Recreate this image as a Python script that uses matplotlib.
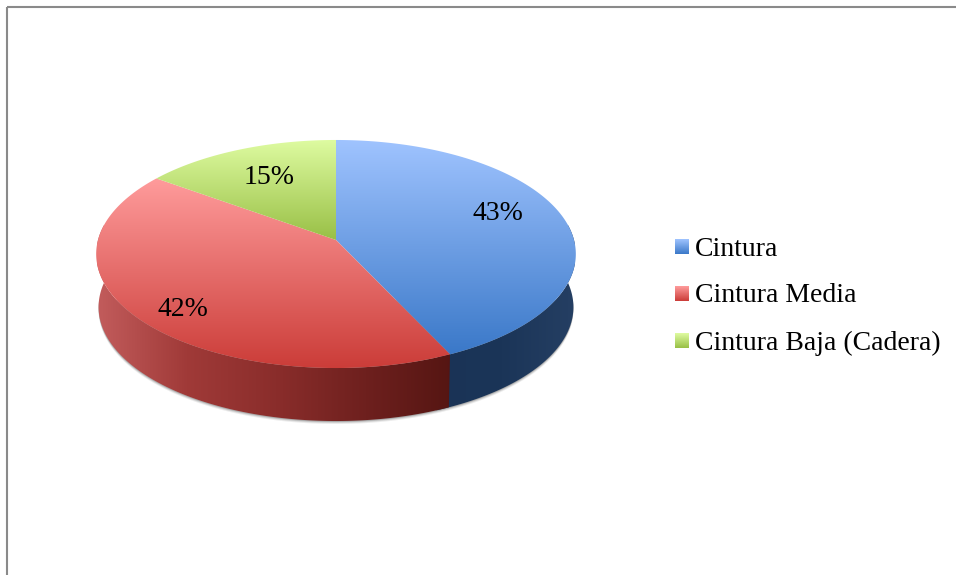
import numpy as np
import matplotlib
matplotlib.use("Agg")
import matplotlib.pyplot as plt
from matplotlib.patches import Polygon, Rectangle
from matplotlib.colors import LinearSegmentedColormap

categories = ["Cintura", "Cintura Media", "Cintura Baja (Cadera)"]
shares = [43, 42, 15]
labels = ["43%", "42%", "15%"]
top_colors = [("#a0c4ff", "#3a78c8"), ("#ff9c9c", "#cb3c38"), ("#dffca2", "#98bf45")]
blue_wall_colors = ["#1a3356", "#1b3558", "#253f63"]
red_wall_colors = ["#c25c5c", "#a03a38", "#8a2d2b", "#6e201e", "#541512"]
label_xy = [(498, 213), (183, 309), (269, 177)]
swatch_y = [239, 286, 333]

plt.rcParams["font.family"] = ["Liberation Serif", "DejaVu Serif"]
W, H = 956, 575
fig = plt.figure(figsize=(W / 100, H / 100), dpi=100)
ax = fig.add_axes([0, 0, 1, 1])
ax.set_xlim(0, W)
ax.set_ylim(H, 0)
ax.axis("off")

CX, CY, A, B, K, DEPTH = 336, 240, 238, 112.3, 0.1228, 53


def rim(t_deg, dy=0.0, sx=1.0):
    t = np.radians(np.asarray(t_deg, dtype=float))
    u, v = np.cos(t), np.sin(t)
    d = 1 + K * v
    return np.column_stack([CX + sx * A * u / d, CY - B * v / d + dy])


def gradient(poly, stops, box, vertical=True, z=2):
    cmap = LinearSegmentedColormap.from_list("g", list(stops))
    g = np.linspace(0, 1, 256)
    g = g[:, None] if vertical else g[None, :]
    x0, x1, y0, y1 = box
    im = ax.imshow(g, cmap=cmap, extent=(x0, x1, y1, y0), aspect="auto", zorder=z, interpolation="bilinear")
    patch = Polygon(poly, closed=True, transform=ax.transData, fc="none", ec="none")
    ax.add_patch(patch)
    im.set_clip_path(patch)
    ax.set_xlim(0, W)
    ax.set_ylim(H, 0)


# slice boundaries, clockwise from the top
edges = 90 - np.cumsum([0] + shares) * 360.0 / sum(shares)

# soft shadow below the wall only
lower = rim(np.linspace(-3, -177, 200), DEPTH, 0.99)
for off, a in [(3.0, 0.12), (2.0, 0.2), (1.0, 0.35)]:
    ax.add_patch(Polygon(lower + [0, off], closed=True, fc="#666666", ec="none", alpha=a, zorder=1))

# side walls (blue runs slightly under red so no seam shows)
ang = np.linspace(8, edges[1] - 3.0, 100)
blue_wall = np.vstack([rim(ang), rim(ang[::-1], DEPTH, 0.99)])
gradient(blue_wall, blue_wall_colors, (430, 575, 200, 430), vertical=False, z=2)
ang = np.linspace(edges[1], -188, 200)
red_wall = np.vstack([rim(ang), rim(ang[::-1], DEPTH, 0.99)])
gradient(red_wall, red_wall_colors, (97, 456, 200, 430), vertical=False, z=2.5)

# top faces
for i in range(len(shares)):
    ang = np.linspace(edges[i], edges[i + 1], 300)
    pts = np.vstack([[CX, CY], rim(ang)])
    y0, y1 = pts[:, 1].min(), pts[:, 1].max()
    gradient(pts, top_colors[i], (pts[:, 0].min() - 2, pts[:, 0].max() + 2, y0 - 1, y1 + 1), z=3 + i)
    ax.text(*label_xy[i], labels[i], fontsize=20, ha="center", va="center", color="black", zorder=10)

# legend
for name, y, stops in zip(categories, swatch_y, top_colors):
    box = (675, 689.5, y, y + 15)
    gradient([(box[0], y), (box[1], y), (box[1], y + 15), (box[0], y + 15)], stops, box, z=5)
    ax.text(695, y + 10, name, fontsize=20, ha="left", va="center", color="black", zorder=10)

# outer frame
ax.add_patch(Rectangle((7.5, 6.5), W, H, fc="none", ec="#8a8a8a", lw=1.5, zorder=20))

fig.savefig("out.png", dpi=100, facecolor="white")
